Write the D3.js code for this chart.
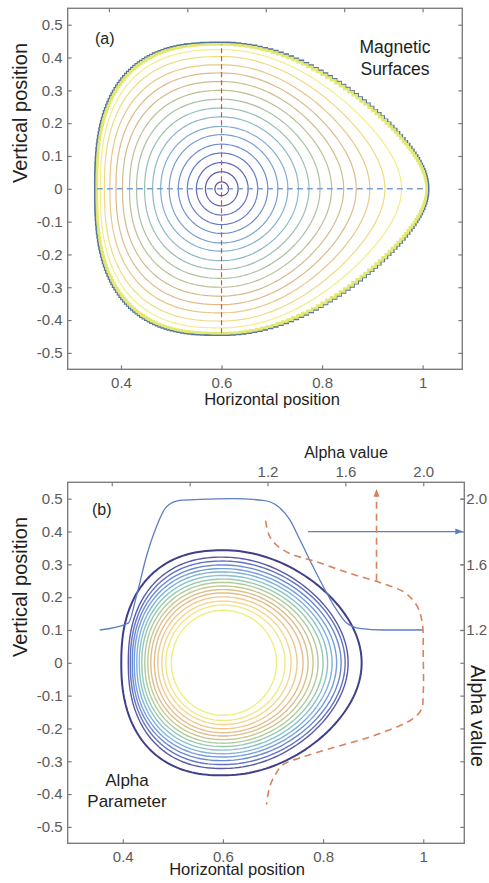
<!DOCTYPE html>
<html>
<head>
<meta charset="utf-8">
<script src="https://cdn.jsdelivr.net/npm/d3@7"></script>
<style>
  body { margin: 0; background: #fff; }
  text { font-family: "Liberation Sans", Arial, sans-serif; }
</style>
</head>
<body>
<div id="chart"></div>
<script>
const W = 489;
const H = 883;

// tick values
const xTicks = [0.4, 0.6, 0.8, 1.0];
const yTicks = [-0.5, -0.4, -0.3, -0.2, -0.1, 0, 0.1, 0.2, 0.3, 0.4, 0.5];
const alphaTicks = [0.4, 0.8, 1.2, 1.6, 2.0];
const alphaLabeled = [1.2, 1.6, 2.0];

// panel (a): magnetic surfaces, inner -> outer (offsets from the magnetic axis)
const surfLeft  = [0.013, 0.032, 0.050, 0.068, 0.086, 0.104, 0.121, 0.137, 0.153, 0.169, 0.183, 0.197, 0.210, 0.222, 0.233, 0.241];
const surfRight = [0.014, 0.033, 0.053, 0.072, 0.092, 0.112, 0.132, 0.153, 0.174, 0.196, 0.219, 0.243, 0.268, 0.295, 0.325, 0.358];
const surfTop   = [0.021, 0.052, 0.080, 0.109, 0.136, 0.165, 0.190, 0.219, 0.246, 0.273, 0.300, 0.327, 0.353, 0.378, 0.403, 0.424];
const surfTip   = [0, 0, 0, 0, 0.02, 0.04, 0.06, 0.08, 0.10, 0.12, 0.15, 0.18, 0.21, 0.24, 0.27, 0.30];
const surfSquare = [1, 1, 1, 1, 1, 0.98, 0.96, 0.94, 0.92, 0.90, 0.88, 0.86, 0.84, 0.82, 0.80, 0.78];
const surfColors = ["#5b4c9e", "#5a58b0", "#5e69be", "#647dc9", "#6d8fce", "#77a0d2", "#82aed2", "#8cb8c6",
                    "#98beb2", "#a9c1a2", "#bcc094", "#cebd8c", "#deba8a", "#e8c886", "#efdb82", "#f3ed86"];
// outer boundary of (a)
const edge = { left: 0.248, right: 0.408, top: 0.44, tip: 0.35, square: 0.75 };
const axisA = { x: 0.6, y: 0 };

// panel (b): alpha contours, inner -> outer
const alphaLeft  = [0.103, 0.114, 0.122, 0.130, 0.137, 0.144, 0.150, 0.156, 0.162, 0.167, 0.172, 0.177, 0.181, 0.185, 0.189, 0.203];
const alphaRight = [0.107, 0.124, 0.136, 0.148, 0.160, 0.170, 0.180, 0.190, 0.200, 0.209, 0.218, 0.227, 0.236, 0.244, 0.250, 0.277];
const alphaTop   = [0.160, 0.176, 0.188, 0.201, 0.213, 0.223, 0.234, 0.245, 0.255, 0.266, 0.277, 0.287, 0.298, 0.310, 0.322, 0.343];
const alphaTip   = [0, 0, 0, 0.01, 0.02, 0.03, 0.04, 0.05, 0.06, 0.07, 0.08, 0.09, 0.10, 0.10, 0.11, 0.12];
const alphaSquare = [1, 1, 0.99, 0.98, 0.97, 0.96, 0.95, 0.94, 0.93, 0.92, 0.91, 0.90, 0.89, 0.88, 0.87, 0.85];
const alphaColors = ["#f1ee7c", "#f2e68a", "#f0d88e", "#ecca8e", "#e4be8c", "#d8c08c", "#c6c890", "#aecb9a",
                     "#97cab0", "#88c2ca", "#7fb2da", "#759edb", "#6a88d2", "#6172c2", "#5859a8", "#3f3f8a"];
const axisB = { x: 0.6, y: 0 };

// alpha profile along horizontal position (solid blue)
const profX     = [0.354, 0.411, 0.427, 0.447, 0.467, 0.487, 0.514, 0.554, 0.620, 0.680, 0.707, 0.734, 0.754, 0.780, 0.804, 0.827, 0.847, 0.873, 0.920, 1.000];
const profAlpha = [1.200, 1.242, 1.403, 1.646, 1.828, 1.950, 1.990, 1.996, 2.000, 1.990, 1.960, 1.870, 1.748, 1.586, 1.444, 1.322, 1.242, 1.210, 1.200, 1.200];

// alpha profile along vertical position (dashed orange)
const vprofY     = [0.433, 0.414, 0.384, 0.359, 0.333, 0.308, 0.273, 0.242, 0.212, 0.171, 0.121, 0.019, -0.092, -0.143, -0.173, -0.194, -0.229, -0.259, -0.290, -0.310, -0.335, -0.376, -0.432];
const vprofAlpha = [1.190, 1.196, 1.212, 1.246, 1.314, 1.450, 1.620, 1.790, 1.910, 1.970, 1.995, 2.000, 2.000, 1.990, 1.940, 1.870, 1.710, 1.535, 1.365, 1.280, 1.246, 1.212, 1.195];

const svg = d3.select("#chart")
    .append("svg")
    .attr("width", W)
    .attr("height", H);

// egg shaped closed curve: pointed on the right, squarer on the left
function shapePoints(cx, cy, l, r, t, tip, sq, n) {
    return d3.range(n).map(i => {
        const th = 2 * Math.PI * i / n;
        const c = Math.cos(th), s = Math.sin(th);
        if (c >= 0) {
            return [cx + r * c, cy + t * s * (1 - tip * c * c)];
        }
        const ac = Math.pow(Math.abs(c), sq);
        const as = Math.pow(Math.abs(s), sq);
        return [cx - l * ac, cy + t * Math.sign(s) * as];
    });
}

function frame(g, x, y) {
    const [x0, x1] = x.range();
    const [y0, y1] = y.range();
    g.append("rect")
        .attr("x", x0).attr("y", y1)
        .attr("width", x1 - x0).attr("height", y0 - y1)
        .attr("fill", "none")
        .attr("stroke", "#7d7d7d")
        .attr("stroke-width", 1.4);
}

function styleAxis(sel) {
    sel.select(".domain").remove();
    sel.selectAll(".tick line").attr("stroke", "#7d7d7d").attr("stroke-width", 1.2);
    sel.selectAll(".tick text").attr("fill", "#5a5a5a").style("font-size", "15px");
}

const yFmt = d => d === 0 ? "0" : d.toFixed(1);
const xFmt = d => d === 1 ? "1" : d.toFixed(1);

function drawAxes(g, x, y) {
    g.append("g")
        .attr("transform", `translate(0, ${y.range()[0]})`)
        .call(d3.axisBottom(x).tickValues(xTicks).tickSize(-4).tickPadding(8).tickFormat(xFmt))
        .call(styleAxis);
    g.append("g")
        .attr("transform", `translate(${x.range()[0]}, 0)`)
        .call(d3.axisLeft(y).tickValues(yTicks).tickSize(-4).tickPadding(5).tickFormat(yFmt))
        .call(styleAxis);
    g.append("g")
        .attr("transform", `translate(${x.range()[1]}, 0)`)
        .call(d3.axisRight(y).tickValues(yTicks).tickSize(-4).tickFormat(""))
        .call(styleAxis);
}

function title(g, txt, x, y, size, rot) {
    g.append("text")
        .attr("transform", `translate(${x}, ${y}) rotate(${rot || 0})`)
        .attr("text-anchor", "middle")
        .attr("fill", "#1e1e1e")
        .style("font-size", size + "px")
        .text(txt);
}

// ---------------- panel (a) ----------------
const ga = svg.append("g");
const xa = d3.scaleLinear().domain([0.294, 1.079]).range([67.7, 462.3]);
const ya = d3.scaleLinear().domain([-0.55, 0.55]).range([369.3, 8.3]);
// alpha scale shares the top edge of both panels
const alphaXa = d3.scaleLinear().domain([1.2, 2.0]).range([xa(0.688), xa(1.0)]);

const lineA = d3.line().x(d => xa(d[0])).y(d => ya(d[1])).curve(d3.curveLinearClosed);

surfTop.forEach((t, i) => {
    ga.append("path")
        .attr("d", lineA(shapePoints(axisA.x, axisA.y, surfLeft[i], surfRight[i], t, surfTip[i], surfSquare[i], 200)))
        .attr("fill", "none")
        .attr("stroke", surfColors[i])
        .attr("stroke-width", 1.2);
});

// pixelated last closed surface
const stepLine = d3.line().x(d => xa(d[0])).y(d => ya(d[1])).curve(d3.curveStep);
const edgeOuter = shapePoints(axisA.x, axisA.y, edge.left + 0.004, edge.right + 0.004, edge.top + 0.006, edge.tip, edge.square, 240);
edgeOuter.push(edgeOuter[0]);
ga.append("path")
    .attr("d", stepLine(edgeOuter))
    .attr("fill", "none")
    .attr("stroke", "#54769c")
    .attr("stroke-width", 1.8);
const edgePts = shapePoints(axisA.x, axisA.y, edge.left, edge.right, edge.top, edge.tip, edge.square, 240);
edgePts.push(edgePts[0]);
ga.append("path")
    .attr("d", stepLine(edgePts))
    .attr("fill", "none")
    .attr("stroke", "#e4e872")
    .attr("stroke-width", 2.6);

// dashed cuts through the axis
ga.append("line")
    .attr("x1", xa(axisA.x - edge.left)).attr("x2", xa(axisA.x + edge.right))
    .attr("y1", ya(0)).attr("y2", ya(0))
    .attr("stroke", "#7a9fd2").attr("stroke-width", 1.4)
    .attr("stroke-dasharray", "6,4");
ga.append("line")
    .attr("x1", xa(axisA.x)).attr("x2", xa(axisA.x))
    .attr("y1", ya(-edge.top)).attr("y2", ya(edge.top))
    .attr("stroke", "#bb5e44").attr("stroke-width", 1.2)
    .attr("stroke-dasharray", "5,3");

frame(ga, xa, ya);
drawAxes(ga, xa, ya);
ga.append("g")
    .attr("transform", `translate(0, ${ya.range()[1]})`)
    .call(d3.axisTop(alphaXa).tickValues(alphaTicks).tickSize(-4).tickFormat(""))
    .call(styleAxis);

ga.append("text").attr("x", 95).attr("y", 44).style("font-size", "16px").attr("fill", "#1e1e1e").text("(a)");
title(ga, "Magnetic", 395, 53, 17.5);
title(ga, "Surfaces", 395, 75, 17.5);
title(ga, "Horizontal position", 272, 405, 16.5);
title(ga, "Vertical position", 27, 113, 20, -90);

// ---------------- panel (b) ----------------
const gb = svg.append("g");
const xb = d3.scaleLinear().domain([0.29, 1.082]).range([67.7, 464.3]);
const yb = d3.scaleLinear().domain([-0.55, 0.55]).range([843.3, 482.3]);
const alphaX = d3.scaleLinear().domain([1.2, 2.0]).range([xb(0.689), xb(1.0)]);
const alphaY = d3.scaleLinear().domain([1.2, 2.0]).range([yb(0.1), yb(0.5)]);

const lineB = d3.line().x(d => xb(d[0])).y(d => yb(d[1])).curve(d3.curveLinearClosed);
alphaTop.forEach((t, i) => {
    gb.append("path")
        .attr("d", lineB(shapePoints(axisB.x, axisB.y, alphaLeft[i], alphaRight[i], t, alphaTip[i], alphaSquare[i], 200)))
        .attr("fill", "none")
        .attr("stroke", alphaColors[i])
        .attr("stroke-width", i === alphaTop.length - 1 ? 2 : 1.4);
});

// horizontal alpha profile
gb.append("path")
    .datum(d3.zip(profX, profAlpha))
    .attr("d", d3.line().x(d => xb(d[0])).y(d => alphaY(d[1])).curve(d3.curveMonotoneX))
    .attr("fill", "none")
    .attr("stroke", "#5d7ec2")
    .attr("stroke-width", 1.3);

// vertical alpha profile
gb.append("path")
    .datum(d3.zip(vprofAlpha, vprofY))
    .attr("d", d3.line().x(d => alphaX(d[0])).y(d => yb(d[1])).curve(d3.curveCatmullRom))
    .attr("fill", "none")
    .attr("stroke", "#d8825e")
    .attr("stroke-width", 1.6)
    .attr("stroke-dasharray", "7,5");

// arrows pointing to the matching alpha axes
const arrowRight = { x0: 0.77, alpha: 1.8 };
const arrowUp = { alpha: 1.76, y0: 0.25, y1: 0.53 };
const ax1 = xb.range()[1] - 1;
gb.append("line")
    .attr("x1", xb(arrowRight.x0)).attr("x2", ax1 - 6)
    .attr("y1", alphaY(arrowRight.alpha)).attr("y2", alphaY(arrowRight.alpha))
    .attr("stroke", "#5d7ec2").attr("stroke-width", 1.3);
gb.append("path")
    .attr("d", `M${ax1},${alphaY(arrowRight.alpha)} l-8,-3 l0,6 z`)
    .attr("fill", "#5d7ec2");
gb.append("line")
    .attr("x1", alphaX(arrowUp.alpha)).attr("x2", alphaX(arrowUp.alpha))
    .attr("y1", yb(arrowUp.y0)).attr("y2", yb(arrowUp.y1) + 6)
    .attr("stroke", "#d8825e").attr("stroke-width", 1.6)
    .attr("stroke-dasharray", "7,5");
gb.append("path")
    .attr("d", `M${alphaX(arrowUp.alpha)},${yb(arrowUp.y1)} l-3,8 l6,0 z`)
    .attr("fill", "#d8825e");

frame(gb, xb, yb);
drawAxes(gb, xb, yb);

// top alpha axis
gb.append("g")
    .attr("transform", `translate(0, ${yb.range()[1]})`)
    .call(d3.axisTop(alphaX).tickValues(alphaTicks).tickSize(-4).tickPadding(5)
        .tickFormat(d => alphaLabeled.includes(d) ? d.toFixed(1) : ""))
    .call(styleAxis);
// right alpha axis
gb.append("g")
    .attr("transform", `translate(${xb.range()[1]}, 0)`)
    .call(d3.axisRight(alphaY).tickValues(alphaLabeled).tickSize(-4).tickPadding(2)
        .tickFormat(d => d.toFixed(1)))
    .call(styleAxis);

gb.append("text").attr("x", 92).attr("y", 515).style("font-size", "16px").attr("fill", "#1e1e1e").text("(b)");
title(gb, "Alpha", 127, 786, 17);
title(gb, "Parameter", 127, 806.5, 17);
title(gb, "Horizontal position", 237, 875, 16.5);
title(gb, "Vertical position", 27, 587, 20, -90);
title(gb, "Alpha value", 346, 458, 16);
title(gb, "Alpha value", 471, 716, 19.5, 90);
</script>
</body>
</html>
